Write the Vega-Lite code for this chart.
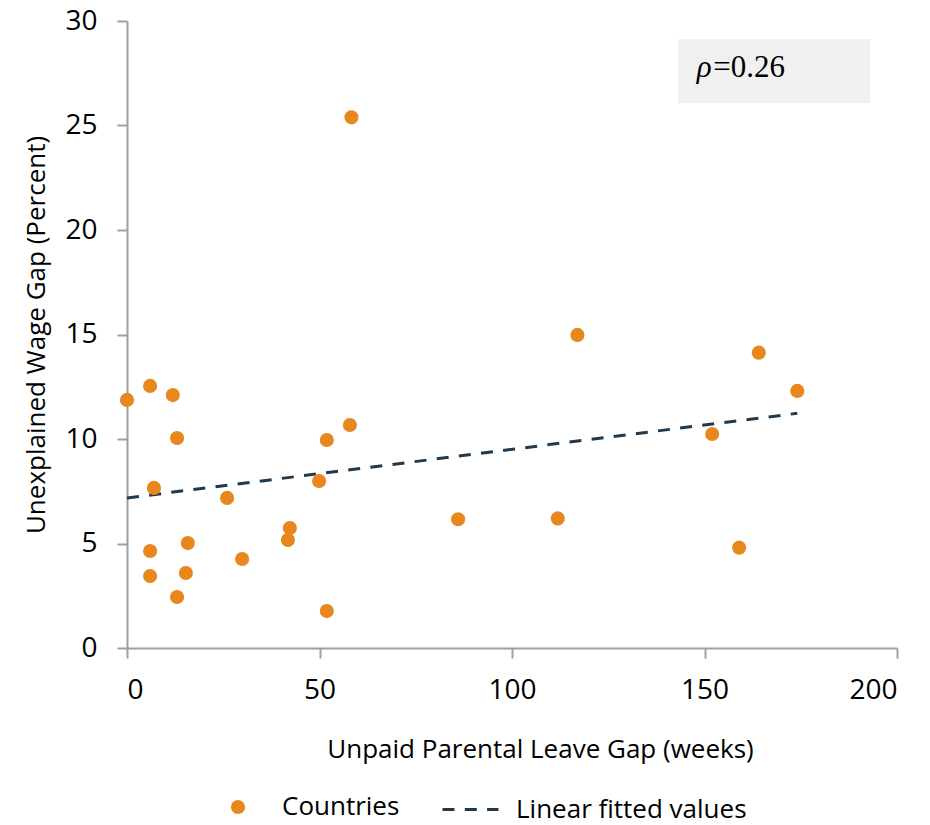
{
  "$schema": "https://vega.github.io/schema/vega-lite/v6.json",
  "autosize": "none",
  "width": 770,
  "height": 627,
  "padding": {"left": 127, "top": 21, "right": 33, "bottom": 177},
  "background": "white",
  "config": {
    "view": {"stroke": null},
    "font": "Open Sans",
    "axis": {
      "grid": false,
      "domainColor": "#A0A0A0",
      "domainWidth": 2,
      "tickColor": "#A0A0A0",
      "tickWidth": 2,
      "tickSize": 10,
      "labelFont": "Open Sans",
      "labelFontSize": 28,
      "labelColor": "#000000",
      "titleFont": "Open Sans",
      "titleFontSize": 26,
      "titleFontWeight": "normal",
      "titleColor": "#000000"
    },
    "legend": {
      "labelFont": "Open Sans",
      "labelFontSize": 26,
      "labelColor": "#000000",
      "labelLimit": 400
    }
  },
  "datasets": {
    "countries": [
      {"leave_gap": 0.0, "wage_gap": 11.87},
      {"leave_gap": 6.0, "wage_gap": 12.54},
      {"leave_gap": 11.9, "wage_gap": 12.1},
      {"leave_gap": 13.0, "wage_gap": 10.05},
      {"leave_gap": 7.0, "wage_gap": 7.66},
      {"leave_gap": 6.0, "wage_gap": 4.64},
      {"leave_gap": 6.0, "wage_gap": 3.44},
      {"leave_gap": 13.0, "wage_gap": 2.44},
      {"leave_gap": 15.8, "wage_gap": 5.02},
      {"leave_gap": 15.3, "wage_gap": 3.59},
      {"leave_gap": 26.0, "wage_gap": 7.18},
      {"leave_gap": 29.9, "wage_gap": 4.26},
      {"leave_gap": 41.8, "wage_gap": 5.17},
      {"leave_gap": 42.3, "wage_gap": 5.74},
      {"leave_gap": 49.9, "wage_gap": 7.99},
      {"leave_gap": 51.9, "wage_gap": 9.95},
      {"leave_gap": 51.9, "wage_gap": 1.77},
      {"leave_gap": 57.9, "wage_gap": 10.67},
      {"leave_gap": 58.3, "wage_gap": 25.39},
      {"leave_gap": 86.0, "wage_gap": 6.16},
      {"leave_gap": 111.9, "wage_gap": 6.2},
      {"leave_gap": 117.0, "wage_gap": 14.98},
      {"leave_gap": 152.0, "wage_gap": 10.24},
      {"leave_gap": 159.0, "wage_gap": 4.8},
      {"leave_gap": 164.1, "wage_gap": 14.13},
      {"leave_gap": 174.1, "wage_gap": 12.3}
    ],
    "fit": [
      {"leave_gap": 0.0, "wage_gap": 7.18},
      {"leave_gap": 174.1, "wage_gap": 11.23}
    ],
    "annotation": [
      {"symbol": "ρ", "value": "=0.26"}
    ]
  },
  "layer": [
    {
      "data": {"name": "annotation"},
      "mark": {"type": "rect", "fill": "#F0F0F0"},
      "encoding": {
        "x": {"datum": 143.1, "type": "quantitative", "scale": {"domain": [0, 200], "nice": false}},
        "x2": {"datum": 193.0},
        "y": {"datum": 29.14, "type": "quantitative", "scale": {"domain": [0, 30], "nice": false}},
        "y2": {"datum": 26.08}
      }
    },
    {
      "data": {"name": "annotation"},
      "mark": {"type": "text", "font": "Liberation Serif", "fontStyle": "italic", "fontSize": 31, "align": "left", "baseline": "middle", "color": "#000000"},
      "encoding": {
        "text": {"field": "symbol"},
        "x": {"datum": 148.0, "type": "quantitative"},
        "y": {"datum": 27.75, "type": "quantitative"}
      }
    },
    {
      "data": {"name": "annotation"},
      "mark": {"type": "text", "font": "Liberation Serif", "fontSize": 31, "align": "left", "baseline": "middle", "color": "#000000"},
      "encoding": {
        "text": {"field": "value"},
        "x": {"datum": 152.3, "type": "quantitative"},
        "y": {"datum": 27.75, "type": "quantitative"}
      }
    },
    {
      "data": {"name": "fit"},
      "mark": {"type": "line", "color": "#1F3A4F", "strokeWidth": 3, "strokeDash": [12, 10.3]},
      "encoding": {
        "x": {"field": "leave_gap", "type": "quantitative"},
        "y": {"field": "wage_gap", "type": "quantitative"},
        "strokeDash": {
          "datum": "Linear fitted values",
          "type": "nominal",
          "scale": {"domain": ["Linear fitted values"], "range": [[12, 10.3]]},
          "legend": {
            "title": null,
            "orient": "none",
            "legendX": 314,
            "legendY": 759,
            "symbolType": "stroke",
            "symbolSize": 3136,
            "symbolStrokeColor": "#1F3A4F",
            "symbolStrokeWidth": 3,
            "labelOffset": 16
          }
        }
      }
    },
    {
      "data": {"name": "countries"},
      "mark": {"type": "circle", "size": 200, "opacity": 1},
      "encoding": {
        "x": {
          "field": "leave_gap",
          "type": "quantitative",
          "scale": {"domain": [0, 200], "nice": false},
          "axis": {
            "title": "Unpaid Parental Leave Gap (weeks)",
            "values": [0, 50, 100, 150, 200],
            "labelPadding": 18,
            "titlePadding": 32,
            "titleX": 413
          }
        },
        "y": {
          "field": "wage_gap",
          "type": "quantitative",
          "scale": {"domain": [0, 30], "nice": false},
          "axis": {
            "title": "Unexplained Wage Gap (Percent)",
            "values": [0, 5, 10, 15, 20, 25, 30],
            "labelPadding": 20,
            "titlePadding": 15
          }
        },
        "color": {
          "datum": "Countries",
          "type": "nominal",
          "scale": {"domain": ["Countries"], "range": ["#E8871E"]},
          "legend": {
            "title": null,
            "orient": "none",
            "legendX": 98,
            "legendY": 773,
            "symbolType": "circle",
            "symbolSize": 200,
            "symbolOpacity": 1,
            "labelOffset": 31
          }
        }
      }
    }
  ]
}
